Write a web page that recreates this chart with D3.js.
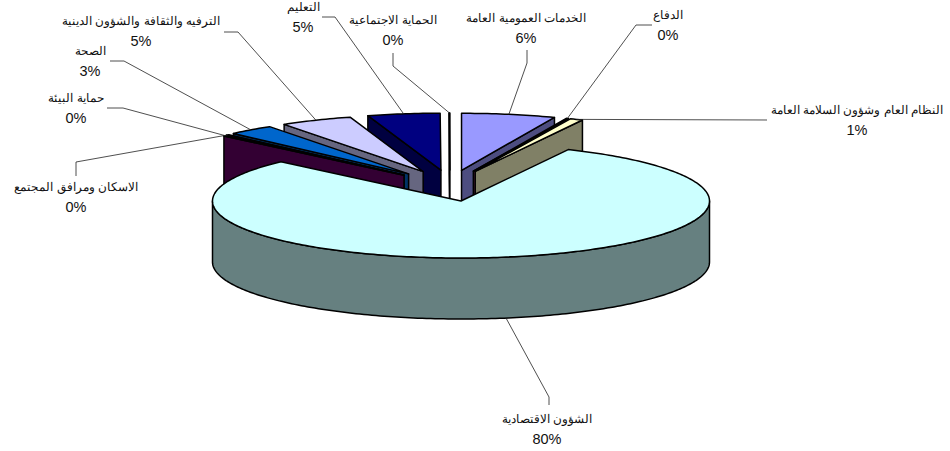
<!DOCTYPE html>
<html>
<head>
<meta charset="utf-8">
<script src="https://cdn.jsdelivr.net/npm/d3@7"></script>
<style>
  html, body { margin: 0; padding: 0; background: #fff; }
  text { font-family: "Liberation Sans", Arial, sans-serif; fill: #111; text-anchor: middle; }
  .name { font-size: 11.9px; }
  .pct { font-size: 14.5px; }
</style>
</head>
<body>
<div id="chart"></div>
<script>
const categories = [
    "الخدمات العمومية العامة",
    "الدفاع",
    "النظام العام وشؤون السلامة العامة",
    "الشؤون الاقتصادية",
    "حماية البيئة",
    "الاسكان ومرافق المجتمع",
    "الصحة",
    "الترفيه والثقافة والشؤون الدينية",
    "التعليم",
    "الحماية الاجتماعية"
];
// shares, the printed labels are rounded
const shares = [6.1, 0.15, 0.85, 80, 0.25, 0.2, 3, 4.7, 4.7, 0.05];
const shareLabels = ["6%", "0%", "1%", "80%", "0%", "0%", "3%", "5%", "5%", "0%"];
const faceColors = ["#9999ff", "#993366", "#ffffcc", "#ccffff", "#660066", "#ff8080", "#0066cc", "#ccccff", "#000080", "#ffffff"];

// label centres and leader elbows, same order as categories
const labelAt = [[526, 18], [668, 15], [857, 110], [547, 419], [76, 98], [76, 187], [90, 51], [141, 21], [303, 7], [393, 20]];
const leaderElbows = [
    [[527, 50], [527, 63]],
    [[652, 25], [636, 25]],
    [[767, 120]],
    [[549, 405], [549, 397]],
    [[107, 108], [123, 108]],
    [[76, 176], [76, 162]],
    [[110, 61], [124, 61]],
    [[224, 32], [238, 32]],
    [[322, 17], [335, 17]],
    [[393, 53], [393, 66]]
];

const width = 950, height = 451;
const cx = 461, cy = 201, rx = 248.5, ry = 57, depth = 61;
const deg = Math.PI / 180;

const svg = d3.select("#chart").append("svg")
    .attr("width", width)
    .attr("height", height)
    .style("display", "block");

const slices = d3.pie().sort(null).value((d) => d)(shares);

// every slice but the big one is pulled out, the shift follows the mid angle
slices.forEach((s, i) => {
    const mid = (s.startAngle + s.endAngle) / 2;
    const signed = (mid > Math.PI ? mid - 2 * Math.PI : mid) / deg;
    s.name = i;
    s.mid = mid;
    s.ax = i === 3 ? cx : cx + Math.max(-57, 1.05 * signed - 11);
    s.ay = i === 3 ? cy : cy - 31 + 0.0025 * signed * signed;
});

const onRim = (s, a) => [s.ax + rx * Math.sin(a), s.ay - ry * Math.cos(a)];
const down = (p) => [p[0], p[1] + depth];
const line = d3.line();

function rimPoints(s, a0, a1) {
    const n = Math.max(2, Math.ceil((a1 - a0) / (1 * deg)));
    return d3.range(n + 1).map((k) => onRim(s, a0 + (a1 - a0) * k / n));
}

function facePath(s) {
    return line([[s.ax, s.ay], ...rimPoints(s, s.startAngle, s.endAngle)]) + "Z";
}

// radial wall on the side turned to the viewer
function wallPath(s) {
    const onLeft = s.mid > Math.PI;
    const p = onRim(s, onLeft ? s.startAngle : s.endAngle);
    const a = [s.ax, s.ay];
    return line([a, p, down(p), down(a)]) + "Z";
}

// front part of the outer rim, only the big slice shows one
function outerPath(s) {
    const a0 = Math.max(s.startAngle, 90 * deg), a1 = Math.min(s.endAngle, 270 * deg);
    const top = rimPoints(s, a0, a1);
    return line([...top, ...top.slice().reverse().map(down)]) + "Z";
}

const shade = (c) => {
    const col = d3.rgb(c);
    return d3.rgb(col.r / 2, col.g / 2, col.b / 2).formatHex();
};

const backOrder = [0, 1, 2, 9, 8, 7, 6, 5, 4];
const order = [...backOrder, 3].map((i) => slices[i]);

const pieG = svg.append("g")
    .attr("stroke", "#000")
    .attr("stroke-width", 1.5)
    .attr("stroke-linejoin", "round");

order.forEach((s) => {
    const g = pieG.append("g");
    if (s.name === 3) {
        g.append("path").attr("d", outerPath(s)).attr("fill", shade(faceColors[3]));
    } else {
        g.append("path").attr("d", wallPath(s)).attr("fill", shade(faceColors[s.name]));
    }
    g.append("path").attr("d", facePath(s)).attr("fill", faceColors[s.name]);
});

// leaders
svg.append("g").selectAll("path")
    .data(slices)
    .join("path")
    .attr("fill", "none")
    .attr("stroke", "#222")
    .attr("stroke-width", 0.8)
    .attr("d", (s, i) => {
        const end = onRim(s, s.mid);
        return line([...leaderElbows[i], i === 3 ? down(end) : end]);
    });

const labels = svg.append("g").selectAll("g")
    .data(categories)
    .join("g")
    .attr("transform", (d, i) => `translate(${labelAt[i][0]},${labelAt[i][1]})`);

labels.append("text")
    .attr("class", "name")
    .attr("dy", "0.35em")
    .text((d) => d);

labels.append("text")
    .attr("class", "pct")
    .attr("y", 20)
    .attr("dy", "0.35em")
    .text((d, i) => shareLabels[i]);
</script>
</body>
</html>
